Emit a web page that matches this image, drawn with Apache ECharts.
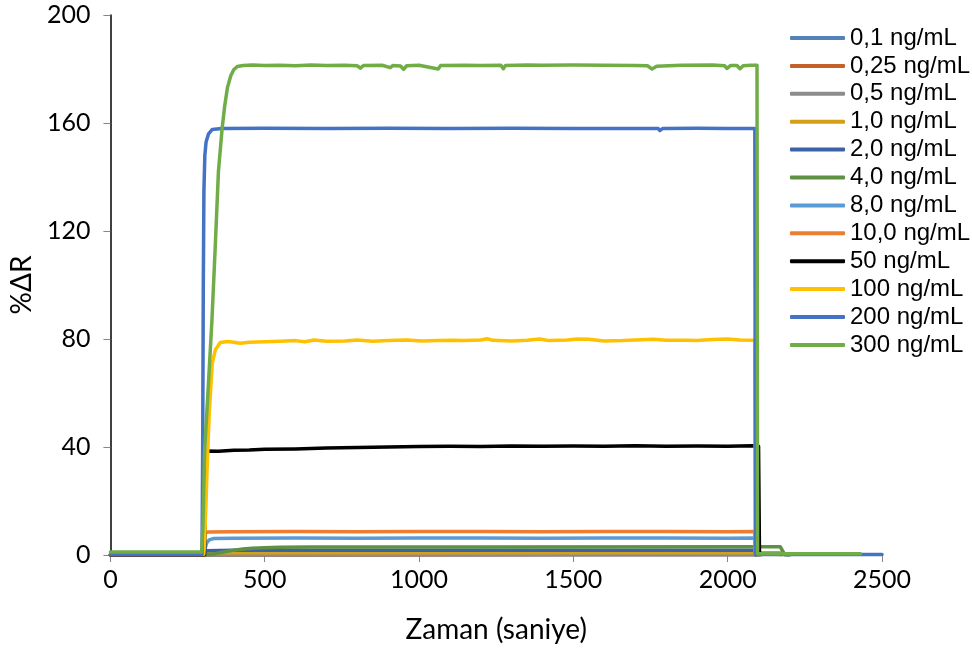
<!DOCTYPE html>
<html>
<head>
<meta charset="utf-8">
<script src="https://cdn.jsdelivr.net/npm/echarts@6/dist/echarts.min.js"></script>
<style>
  html, body { margin: 0; padding: 0; background: #fff; }
  #chart { width: 972px; height: 652px; }
</style>
</head>
<body>
<div id="chart"></div>
<script>
// Time (s) vs %ΔR response curves, one per concentration
const seriesNames = ['0,1 ng/mL', '0,25 ng/mL', '0,5 ng/mL', '1,0 ng/mL', '2,0 ng/mL', '4,0 ng/mL',
  '8,0 ng/mL', '10,0 ng/mL', '50 ng/mL', '100 ng/mL', '200 ng/mL', '300 ng/mL'];
const seriesColors = ['#5382B8', '#C4612A', '#8C8C8C', '#D4A017', '#3B62A6', '#5E9142',
  '#5B9BD5', '#ED7D31', '#000000', '#FFC000', '#4472C4', '#70AD47'];

const xTicks = [0, 500, 1000, 1500, 2000, 2500];
const yTicks = [0, 40, 80, 120, 160, 200];

const s01 = [[0, 0], [300, 0], [2090, 0.1]];
const s025 = [[0, 0], [305, 0], [308, 0.3], [2090, 0.3], [2092, 0]];
const s05 = [[0, 0], [305, 0], [308, 0.5], [2090, 0.5], [2092, 0]];
const s1 = [[0, 0], [305, 0], [308, 0.8], [1000, 0.8], [2170, 0.8], [2172, 0.1]];
const s2 = [[0, 0], [305, 0], [308, 1.6], [400, 1.8], [1200, 1.8], [2088, 1.8], [2090, 0.1], [2100, 0.1]];
const s4 = [[0, 0], [310, 0], [340, 0.5], [370, 1.2], [400, 1.8], [430, 2.2], [460, 2.5], [500, 2.7],
  [550, 2.9], [650, 3.0], [1200, 3.0], [2100, 3.1], [2170, 3.1], [2185, 0.1], [2200, 0]];
const s8 = [[0, 0], [304, 0], [307, 2.5], [312, 4.5], [320, 5.6], [335, 6.1], [400, 6.2], [600, 6.3],
  [800, 6.2], [1000, 6.3], [1200, 6.3], [1400, 6.2], [1600, 6.3], [1800, 6.3], [2000, 6.2],
  [2088, 6.3], [2090, 0.1], [2100, 0.1]];
const s10 = [[0, 0], [303, 0], [306, 8.0], [315, 8.5], [400, 8.6], [600, 8.7], [800, 8.6], [1000, 8.7],
  [1200, 8.7], [1400, 8.6], [1600, 8.7], [1800, 8.7], [2000, 8.6], [2088, 8.7], [2090, 0.1], [2100, 0.1]];
const s50 = [[0, 0.1], [305, 0.1], [308, 38.5], [350, 38.4], [400, 38.8], [450, 38.9], [500, 39.2],
  [600, 39.3], [700, 39.6], [800, 39.8], [900, 40.0], [1000, 40.2], [1100, 40.3], [1200, 40.2],
  [1300, 40.4], [1400, 40.3], [1500, 40.4], [1600, 40.3], [1700, 40.5], [1800, 40.3], [1900, 40.4],
  [2000, 40.3], [2080, 40.5], [2100, 40.3], [2103, 0.2], [2110, 0.2]];
const s100 = [[0, 0.3], [303, 0.3], [306, 8], [310, 20], [313, 31], [320, 52], [330, 71], [340, 76],
  [356, 78.7], [380, 79.1], [400, 78.8], [420, 78.4], [450, 78.8], [500, 79.0], [550, 79.2],
  [600, 79.4], [630, 79.0], [660, 79.6], [700, 79.2], [760, 79.3], [800, 79.6], [850, 79.2],
  [900, 79.4], [960, 79.6], [1010, 79.3], [1060, 79.4], [1110, 79.5], [1150, 79.4], [1200, 79.6],
  [1221, 80.1], [1240, 79.5], [1300, 79.3], [1350, 79.5], [1392, 80.0], [1420, 79.4], [1480, 79.6],
  [1513, 80.0], [1550, 79.9], [1600, 79.3], [1660, 79.4], [1720, 79.7], [1760, 79.9], [1800, 79.5],
  [1860, 79.5], [1900, 79.4], [1950, 79.8], [2000, 80.0], [2040, 79.6], [2088, 79.5], [2090, 0.3],
  [2100, 0.3]];
const s200 = [[0, 0.2], [297, 0.2], [299, 40], [301, 100], [303, 135], [306, 148], [310, 153],
  [318, 156], [330, 157.6], [360, 158], [500, 158.1], [700, 158], [900, 158.1], [1100, 158],
  [1300, 158.1], [1500, 158], [1700, 158], [1775, 158], [1780, 157.2], [1790, 158], [1900, 158.1],
  [2000, 158], [2088, 158], [2090, 0.2], [2300, 0.2], [2500, 0.2]];
const s300 = [[0, 1.1], [296, 1.1], [300, 12], [305, 38], [315, 58], [329, 87], [340, 115], [350, 142],
  [362, 158], [370, 166], [379, 173], [390, 177.5], [400, 179.8], [411, 180.9], [430, 181.3],
  [460, 181.5], [500, 181.3], [550, 181.4], [600, 181.2], [650, 181.5], [700, 181.3], [760, 181.4],
  [800, 181.2], [810, 180.3], [820, 181.3], [880, 181.4], [907, 180.5], [915, 181.3], [940, 181.1],
  [950, 179.9], [960, 181.2], [1000, 181.4], [1062, 180.0], [1070, 181.3], [1150, 181.4],
  [1200, 181.3], [1265, 181.4], [1273, 180.1], [1280, 181.3], [1350, 181.5], [1400, 181.4],
  [1500, 181.5], [1600, 181.4], [1700, 181.3], [1740, 181.2], [1755, 180.0], [1770, 181.0],
  [1850, 181.4], [1950, 181.5], [1990, 181.2], [1998, 180.2], [2010, 181.3], [2030, 181.3],
  [2040, 180.1], [2050, 181.2], [2075, 181.4], [2095, 181.4], [2097, 0.5], [2300, 0.5], [2430, 0.5]];

const seriesData = [s01, s025, s05, s1, s2, s4, s8, s10, s50, s100, s200, s300];

const chart = echarts.init(document.getElementById('chart'), null, { renderer: 'canvas' });

const tickFont = 'Lato, "Liberation Sans", sans-serif';

chart.setOption({
  animation: false,
  backgroundColor: '#ffffff',
  grid: { left: 110, right: 90, top: 15, bottom: 97, containLabel: false },
  legend: {
    orient: 'vertical',
    left: 785,
    top: 21,
    icon: 'roundRect',
    itemWidth: 55,
    itemHeight: 4,
    itemGap: 3.9,
    data: seriesNames,
    textStyle: {
      fontFamily: '"Liberation Sans", Arial, sans-serif',
      fontSize: 24,
      lineHeight: 24,
      color: '#000'
    }
  },
  xAxis: {
    type: 'value',
    min: xTicks[0],
    max: xTicks[xTicks.length - 1],
    interval: xTicks[1] - xTicks[0],
    name: 'Zaman (saniye)',
    nameLocation: 'middle',
    nameGap: 61,
    nameTextStyle: { fontFamily: tickFont, fontSize: 28, color: '#000' },
    axisLine: { show: true, onZero: false, lineStyle: { color: '#868686', width: 1 } },
    axisTick: { show: true, length: 7, lineStyle: { color: '#868686' } },
    axisLabel: { fontFamily: tickFont, fontSize: 25, color: '#000', margin: 12,
      formatter: v => String(v) },
    splitLine: { show: false }
  },
  yAxis: {
    type: 'value',
    min: yTicks[0],
    max: yTicks[yTicks.length - 1],
    interval: yTicks[1] - yTicks[0],
    name: '%ΔR',
    nameLocation: 'middle',
    nameGap: 66,
    nameRotate: 90,
    nameTextStyle: { fontFamily: tickFont, fontSize: 28, color: '#000' },
    axisLine: { show: true, lineStyle: { color: '#000', width: 1.5 } },
    axisTick: { show: true, length: 7, lineStyle: { color: '#868686' } },
    axisLabel: { fontFamily: tickFont, fontSize: 25, color: '#000', margin: 20,
      formatter: v => String(v) },
    splitLine: { show: false }
  },
  series: seriesNames.map((name, i) => ({
    name: name,
    type: 'line',
    data: seriesData[i],
    showSymbol: false,
    symbol: 'none',
    clip: false,
    color: seriesColors[i],
    lineStyle: { color: seriesColors[i], width: 3.5, join: 'round', cap: 'round' }
  }))
});
</script>
</body>
</html>
